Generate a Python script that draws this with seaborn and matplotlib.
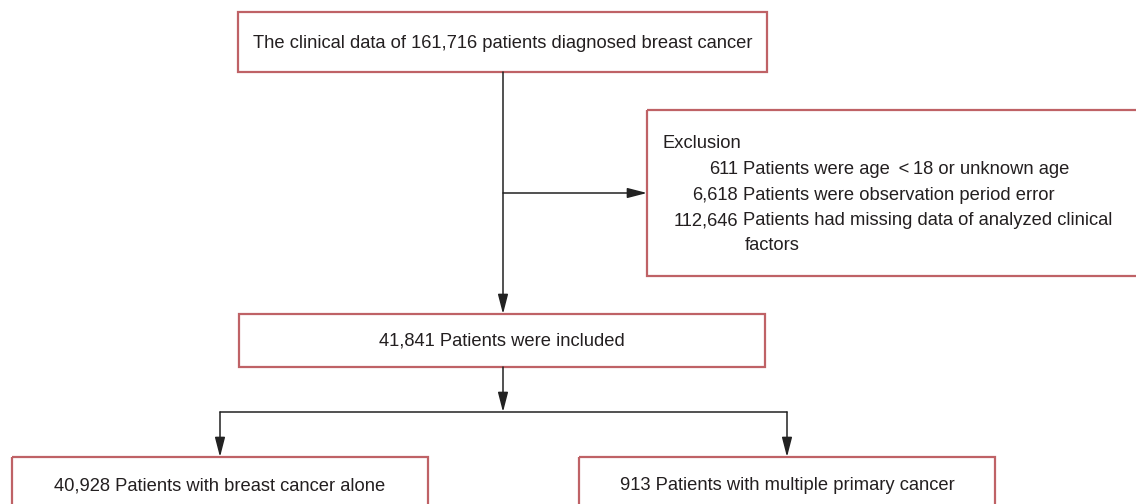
import matplotlib
matplotlib.use("Agg")
import matplotlib.pyplot as plt
import seaborn as sns
from matplotlib.patches import Rectangle

# ###########################################
# Flowchart data (patient counts)
# ###########################################

total_patients = 161716
excl_counts = [611, 6618, 112646]
excl_reasons = ["Patients were age \u2009<\u200918 or unknown age",
                "Patients were observation period error",
                "Patients had missing data of analyzed clinical"]
excl_wrap = "factors"
included = 41841
group_counts = [40928, 913]
group_labels = ["Patients with breast cancer alone",
                "Patients with multiple primary cancer"]

sns.set_theme(style="white")
plt.rcParams['font.family'] = ['Liberation Sans', 'DejaVu Sans']

edge = '#bf6266'
txt = '#231f20'
fs = 13.2

fig = plt.figure(figsize=(11.36, 5.04), dpi=100)
ax = fig.add_axes([0, 0, 1, 1])
ax.set_xlim(0, 1136)
ax.set_ylim(504, 0)
ax.axis('off')

def box(x0, y0, x1, y1):
    ax.add_patch(Rectangle((x0, y0), x1 - x0, y1 - y0, fill=False,
                           edgecolor=edge, lw=1.6))

def line(xs, ys):
    sns.lineplot(x=xs, y=ys, ax=ax, color='#222222', lw=1.1,
                 sort=False, estimator=None)

def arrow(x0, y0, x1, y1):
    ax.annotate('', xy=(x1, y1), xytext=(x0, y0),
                arrowprops=dict(arrowstyle='-|>,head_length=0.85,head_width=0.22',
                                color='#222222', lw=1.1, shrinkA=0, shrinkB=0,
                                mutation_scale=14))

# top box
box(238, 12, 767, 72)
ax.text(503, 43, f"The clinical data of {total_patients:,} patients diagnosed breast cancer",
        ha='center', va='center', fontsize=fs, color=txt)

# main trunk + exclusion branch
arrow(503, 72, 503, 314)
arrow(503, 193, 647, 193)

# exclusion box (runs off the right edge)
box(647, 110, 1160, 276)
ax.text(662, 144, "Exclusion", ha='left', va='center', fontsize=fs, color=txt)
for i, (n, r) in enumerate(zip(excl_counts, excl_reasons)):
    y = 169.5 + i * 25.5
    ax.text(738, y, f"{n:,}", ha='right', va='center', fontsize=fs, color=txt)
    ax.text(743, y, r, ha='left', va='center', fontsize=fs, color=txt)
ax.text(745, 246, excl_wrap, ha='left', va='center', fontsize=fs, color=txt)

# included box
box(239, 314, 765, 367)
ax.text(502, 341.5, f"{included:,} Patients were included",
        ha='center', va='center', fontsize=fs, color=txt)

# split
arrow(503, 367, 503, 412)
line([220, 787], [412, 412])
arrow(220, 412, 220, 457)
arrow(787, 412, 787, 457)

# bottom boxes (cut off at the bottom)
box(12, 457, 428, 520)
box(579, 457, 995, 520)
for cx, n, lab in zip([220, 787], group_counts, group_labels):
    ax.text(cx, 486, f"{n:,} {lab}", ha='center', va='center', fontsize=fs, color=txt)

fig.savefig("out.png", dpi=100)
